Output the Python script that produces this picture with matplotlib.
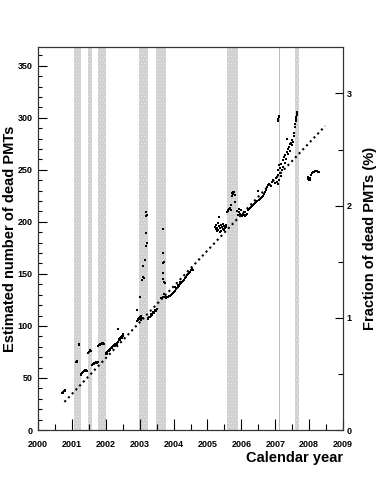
import numpy as np
import matplotlib
matplotlib.use("Agg")
import matplotlib.pyplot as plt
from matplotlib.ticker import MultipleLocator

plt.rcParams['font.family'] = ['Liberation Sans', 'DejaVu Sans']
plt.rcParams['font.weight'] = 'bold'
plt.rcParams['hatch.linewidth'] = 0.6

# dead PMT estimates (calendar year, number)
years = [
    2000.72, 2000.74, 2000.75, 2000.76, 2000.77, 2000.78, 2000.79, 2000.80,
    2001.13, 2001.14, 2001.15, 2001.20, 2001.21, 2001.22,
    2001.26, 2001.28, 2001.30, 2001.31, 2001.33, 2001.35, 2001.37, 2001.39, 2001.41, 2001.43, 2001.45,
    2001.48, 2001.50, 2001.52, 2001.54, 2001.55,
    2001.58, 2001.60, 2001.62, 2001.64, 2001.66, 2001.68, 2001.70, 2001.72, 2001.74, 2001.76,
    2001.78, 2001.80, 2001.82, 2001.84, 2001.86, 2001.88, 2001.90, 2001.92, 2001.94,
    2002.00, 2002.02, 2002.04, 2002.05, 2002.07, 2002.08, 2002.10, 2002.12, 2002.13, 2002.15,
    2002.17, 2002.18, 2002.20, 2002.22, 2002.24, 2002.26, 2002.28, 2002.30, 2002.32, 2002.34,
    2002.36, 2002.37, 2002.38, 2002.40, 2002.42, 2002.43, 2002.45, 2002.47, 2002.48, 2002.50, 2002.51,
    2002.91, 2002.93, 2002.95, 2002.96, 2002.98, 2003.00, 2003.02, 2003.03, 2003.05, 2003.06,
    2003.02, 2003.08, 2003.10, 2003.11, 2003.13, 2003.17, 2003.18, 2003.20, 2003.21, 2003.19, 2003.20, 2003.21,
    2003.24, 2003.26, 2003.28, 2003.30, 2003.32, 2003.34, 2003.36, 2003.38, 2003.40, 2003.42,
    2003.44, 2003.46, 2003.48, 2003.50,
    2003.69, 2003.68, 2003.72, 2003.69, 2003.70, 2003.70, 2003.72, 2003.74, 2003.71, 2003.73,
    2003.64, 2003.67, 2003.70, 2003.74, 2003.77, 2003.80, 2003.83, 2003.86, 2003.88,
    2003.92, 2003.95, 2003.98, 2004.01, 2004.04, 2004.07, 2004.10, 2004.13, 2004.16, 2004.19,
    2004.22, 2004.25, 2004.28, 2004.31, 2004.34, 2004.37, 2004.40, 2004.43, 2004.46, 2004.49,
    2004.52, 2004.55, 2004.57, 2004.05, 2004.12, 2004.20,
    2005.22, 2005.24, 2005.26, 2005.27, 2005.29, 2005.30, 2005.32, 2005.33, 2005.35, 2005.36,
    2005.38, 2005.40, 2005.41, 2005.43, 2005.45, 2005.46, 2005.48, 2005.50, 2005.52, 2005.54, 2005.56,
    2005.58, 2005.60, 2005.62, 2005.64, 2005.66, 2005.68, 2005.70, 2005.71, 2005.73, 2005.75,
    2005.76, 2005.78, 2005.80, 2005.82,
    2005.88, 2005.90, 2005.92, 2005.94, 2005.96, 2005.98, 2006.00, 2006.02, 2006.05, 2006.08,
    2006.10, 2006.12, 2006.15, 2006.18,
    2006.20, 2006.23, 2006.26, 2006.29, 2006.32, 2006.35, 2006.38, 2006.41, 2006.44, 2006.47,
    2006.50, 2006.52, 2006.55, 2006.58, 2006.61, 2006.64, 2006.67, 2006.70, 2006.73, 2006.76, 2006.79,
    2006.82, 2006.86, 2006.90, 2006.94, 2006.98, 2007.02, 2007.05, 2007.07, 2007.08, 2007.09, 2007.10,
    2007.08, 2007.09, 2007.10, 2007.11,
    2007.12, 2007.13, 2007.15, 2007.16, 2007.18, 2007.20, 2007.22, 2007.24, 2007.26, 2007.28,
    2007.30, 2007.32, 2007.34, 2007.35, 2007.37, 2007.39, 2007.41, 2007.43, 2007.44, 2007.46,
    2007.48, 2007.50, 2007.52, 2007.54, 2007.56, 2007.58, 2007.59, 2007.60, 2007.61, 2007.62,
    2007.63, 2007.64, 2007.65,
    2007.97, 2007.98, 2008.00, 2008.02, 2008.04, 2008.06, 2008.08, 2008.10, 2008.13, 2008.16,
    2008.20, 2008.23, 2008.26, 2008.28,
]
n_dead = [
    35.5, 36, 36.5, 37, 37.5, 37, 38, 37.5,
    65, 65.5, 66, 82, 82.5, 81.5,
    53, 54, 54.5, 55, 56, 57, 56.5, 57.5, 58, 57, 56.5,
    74, 75, 76, 76.5, 75.5,
    62, 62.5, 63, 63.5, 64, 64, 64.5, 65, 64.5, 65.5,
    81, 82, 81.5, 82.5, 83, 82.5, 83.5, 84, 83,
    73, 74, 73.5, 75, 76, 75.5, 77, 78, 77, 79,
    80, 79, 81, 80.5, 82, 81, 83, 82, 84, 83,
    85, 97.5, 86, 87, 86, 88, 89, 90, 88, 92, 90,
    115, 105, 107, 106, 108, 107, 109, 106, 110, 108,
    128, 144, 147, 158, 146, 163, 189, 177, 180, 206, 209, 207,
    107, 108, 109, 108.5, 110, 111, 110.5, 112, 113, 112,
    114, 115, 114, 116,
    193, 170, 161, 160, 151, 145, 142, 141, 131, 128,
    127, 126.5, 127.5, 128, 127, 128, 127.5, 128.5, 129,
    130, 131, 131.5, 133, 134, 135, 136, 137.5, 138, 140,
    141, 142, 143, 144.5, 146, 147, 148.5, 150, 151, 152,
    153.5, 155, 154, 137, 139, 142,
    195, 193, 197, 191, 194, 199, 192, 196, 205, 190,
    194, 197, 191, 195, 193, 198, 192, 196, 194, 197, 195,
    209, 211, 210, 212, 213, 211, 216, 225, 228, 229,
    227, 228.5, 226, 219,
    210, 207, 212, 209, 208, 211, 207, 206, 208, 207,
    206, 209, 207, 208,
    211, 212, 213, 214, 215, 216, 217, 218, 219, 220,
    230, 221, 222, 223, 224, 225, 227, 229, 231, 233, 235,
    236, 234, 238, 240, 237, 242, 238, 236, 245, 250, 255,
    297, 299, 301, 302,
    240, 247, 252, 244, 256, 250, 259, 253, 262, 257,
    264, 260, 280, 267, 270, 265, 272, 268, 275, 276,
    274, 279, 277, 282, 285, 291, 294, 297, 299, 301,
    303, 305, 306,
    243, 241, 240, 240, 242, 245, 247, 247.5, 248, 249,
    249, 248.5, 248, 247.5,
]

# linear trend (dotted), end points
fit_years = [2000.78, 2008.47]
fit_vals = [27, 292]

# shaded periods
bands = [(2001.07, 2001.26), (2001.48, 2001.60), (2001.78, 2002.01),
         (2002.99, 2003.25), (2003.48, 2003.78), (2005.58, 2005.89),
         (2007.58, 2007.69)]
thin_line = 2007.12

n_per_percent = 107.8   # PMTs per 1 % on the right axis

fig = plt.figure(figsize=(3.82, 4.78), dpi=100)
ax = fig.add_axes([0.0995, 0.1004, 0.7985, 0.8013])

for a, b in bands:
    ax.axvspan(a, b, facecolor='#d0d0d0', edgecolor='#e4e4e4', hatch='.....', lw=0, zorder=1)
ax.axvline(thin_line, color='#b0b0b0', lw=0.6, zorder=1)

ax.plot(fit_years, fit_vals, color='k', lw=1.5, ls=(0, (1, 1.6)), zorder=3)
ax.scatter(years, n_dead, s=3.5, marker='s', c='k', linewidths=0, zorder=4)

ax.set_xlim(2000, 2009)
ax.set_ylim(0, 368)
ax.xaxis.set_major_locator(MultipleLocator(1))
ax.xaxis.set_minor_locator(MultipleLocator(0.5))
ax.yaxis.set_major_locator(MultipleLocator(50))
ax.yaxis.set_minor_locator(MultipleLocator(10))
ax.tick_params(axis='x', which='major', direction='in', length=8, width=0.8, pad=7, labelsize=6.5)
ax.tick_params(axis='x', which='minor', direction='in', length=4, width=0.8)
ax.tick_params(axis='y', which='major', direction='in', length=6.5, width=0.8, pad=4, labelsize=6.5)
ax.tick_params(axis='y', which='minor', direction='in', length=3.2, width=0.8)
ax.tick_params(right=False, top=False, which='both')
for s in ax.spines.values():
    s.set_linewidth(0.8)
    s.set_color('#333333')

ax.set_ylabel('Estimated number of dead PMTs', fontsize=10.5, fontweight='bold')
ax.yaxis.set_label_coords(-0.069, 0.5)
ax.set_xlabel('Calendar year', fontsize=10.5, fontweight='bold')
ax.xaxis.set_label_coords(1.0, -0.055)
ax.xaxis.label.set_horizontalalignment('right')

ax2 = ax.twinx()
ax2.set_ylim(0, 368 / n_per_percent)
ax2.yaxis.set_major_locator(MultipleLocator(1))
ax2.yaxis.set_minor_locator(MultipleLocator(0.5))
ax2.tick_params(axis='y', which='major', direction='in', length=6, width=0.8, pad=2.5, labelsize=6.5)
ax2.tick_params(axis='y', which='minor', direction='in', length=3.5, width=0.8)
for s in ax2.spines.values():
    s.set_linewidth(0.8)
    s.set_color('#333333')
ax2.set_ylabel('Fraction of dead PMTs (%)', fontsize=10.5, fontweight='bold')
ax2.yaxis.set_label_coords(1.065, 0.5)

fig.savefig('out.png', dpi=100)
